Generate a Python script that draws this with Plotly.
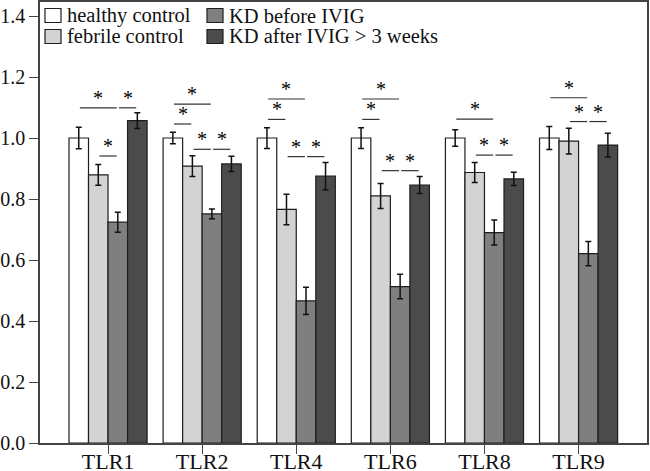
import plotly.graph_objects as go

# ---------------- data ----------------
categories = ["TLR1", "TLR2", "TLR4", "TLR6", "TLR8", "TLR9"]
series_names = ["healthy control", "febrile control", "KD before IVIG", "KD after IVIG > 3 weeks"]

healthy = [1.00, 1.00, 1.00, 1.00, 1.00, 1.00]
healthy_err = [0.035, 0.019, 0.034, 0.034, 0.027, 0.038]
febrile = [0.879, 0.908, 0.766, 0.810, 0.887, 0.990]
febrile_err = [0.034, 0.034, 0.050, 0.041, 0.033, 0.042]
kd_before = [0.724, 0.751, 0.466, 0.513, 0.690, 0.621]
kd_before_err = [0.033, 0.016, 0.045, 0.040, 0.041, 0.040]
kd_after = [1.057, 0.915, 0.875, 0.846, 0.866, 0.977]
kd_after_err = [0.026, 0.025, 0.045, 0.028, 0.022, 0.039]

y_tick_vals = [0.0, 0.2, 0.4, 0.6, 0.8, 1.0, 1.2, 1.4]
y_tick_text = ["0.0", "0.2", "0.4", "0.6", "0.8", "1.0", "1.2", "1.4"]

# significance comparisons: group index, first bar, second bar, bracket level
sig_group = [0, 0, 0, 1, 1, 1, 1, 2, 2, 2, 2, 3, 3, 3, 3, 4, 4, 4, 5, 5, 5]
sig_from = [0, 2, 1, 0, 0, 1, 2, 0, 0, 1, 2, 0, 0, 1, 2, 0, 1, 2, 0, 1, 2]
sig_to = [2, 3, 2, 2, 1, 2, 3, 2, 1, 2, 3, 2, 1, 2, 3, 2, 2, 3, 2, 2, 3]
sig_level = [1.099, 1.099, 0.941, 1.111, 1.046, 0.963, 0.963,
             1.128, 1.061, 0.939, 0.939, 1.128, 1.061, 0.893, 0.893,
             1.062, 0.944, 0.944, 1.132, 1.054, 1.054]

# ---------------- styles ----------------
colors = ["#ffffff", "#d3d3d3", "#7f7f7f", "#4b4b4b"]
FONT = "Times New Roman, Liberation Serif, Tinos, DejaVu Serif, serif"
BARGAP = 0.17

values = [healthy, febrile, kd_before, kd_after]
errors = [healthy_err, febrile_err, kd_before_err, kd_after_err]

fig = go.Figure()
for name, vals, errs, col in zip(series_names, values, errors, colors):
    fig.add_trace(go.Bar(
        x=categories, y=vals, name=name,
        marker=dict(color=col, line=dict(color="#1e1e1e", width=1.2)),
        error_y=dict(type="data", array=errs, visible=True,
                     color="#111111", thickness=1.5, width=3),
        showlegend=False,
    ))

# bar centre offsets within group (data units)
n = len(series_names)
bw = (1 - BARGAP) / n
offsets = [-(1 - BARGAP) / 2 + bw * (i + 0.5) for i in range(n)]

shrink = 0.012
for g, a, b, lev in zip(sig_group, sig_from, sig_to, sig_level):
    x0 = g + offsets[a] + shrink
    x1 = g + offsets[b] - shrink
    fig.add_shape(type="line", xref="x", yref="y", x0=x0, x1=x1, y0=lev, y1=lev,
                  line=dict(color="#333333", width=1.2))
    fig.add_annotation(x=(x0 + x1) / 2, y=lev, xref="x", yref="y", text="*",
                       showarrow=False, yanchor="bottom", yshift=-3,
                       font=dict(family=FONT, size=20, color="#000000"))

# manual legend (2 x 2)
W, H = 650, 471
L, R, T, B = 40, 3, 2, 28
pw, ph = W - L - R, H - T - B


def px(xp):
    return (xp - L) / pw


def py(yp):
    return (H - B - yp) / ph


leg_pos = [(45, 8.5), (45, 29.5), (207, 8.5), (207, 29.5)]
for (lx, ly), name, col in zip(leg_pos, series_names, colors):
    fig.add_shape(type="rect", xref="paper", yref="paper",
                  x0=px(lx), x1=px(lx + 16), y0=py(ly + 14), y1=py(ly),
                  fillcolor=col, line=dict(color="#1e1e1e", width=1.2))
    fig.add_annotation(xref="paper", yref="paper", x=px(lx + 20), y=py(ly + 7),
                       text=name, showarrow=False, xanchor="left", yanchor="middle",
                       font=dict(family=FONT, size=20.5, color="#111111"))

fig.update_layout(
    width=W, height=H,
    margin=dict(l=L, r=R, t=T, b=B, pad=0, autoexpand=False),
    barmode="group", bargap=BARGAP, bargroupgap=0,
    plot_bgcolor="white", paper_bgcolor="white",
    font=dict(family=FONT, color="#111111"),
    xaxis=dict(type="category", range=[-0.723, 5.727], automargin=False,
               showline=True, linecolor="#444444", linewidth=1.5, mirror=True,
               ticks="outside", ticklen=9, tickcolor="#444444", tickwidth=1.2,
               ticklabelstandoff=-11,
               tickfont=dict(family=FONT, size=22, color="#111111"),
               showgrid=False, zeroline=False),
    yaxis=dict(range=[0, 1.446], tickvals=y_tick_vals, ticktext=y_tick_text,
               automargin=False,
               showline=True, linecolor="#444444", linewidth=1.5, mirror=True,
               ticks="outside", ticklen=9, tickcolor="#444444", tickwidth=1.2,
               tickfont=dict(family=FONT, size=20, color="#111111"),
               showgrid=False, zeroline=False),
)

fig.write_html("out.html", config={"displayModeBar": False},
               post_script="document.body.style.margin='0';document.body.style.padding='0';")
